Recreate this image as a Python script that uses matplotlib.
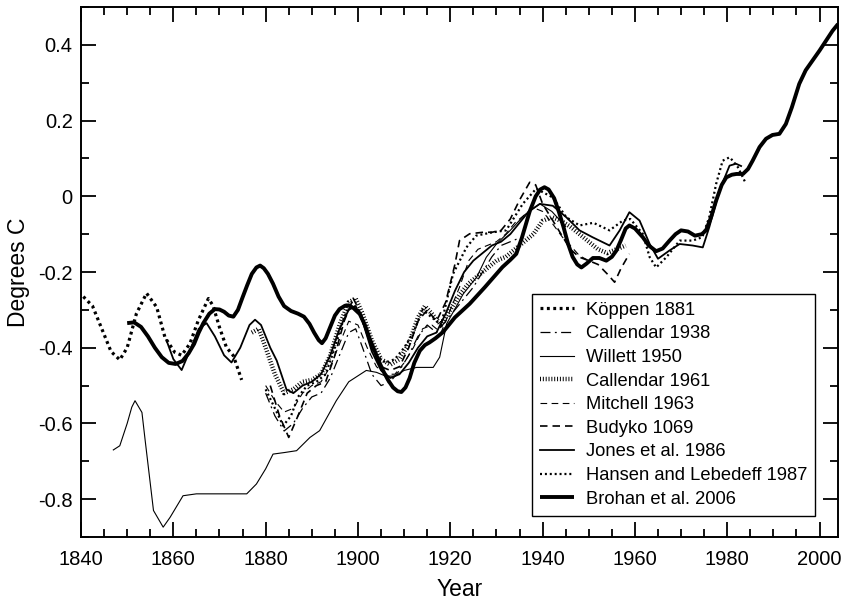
import matplotlib
matplotlib.use("Agg")
import matplotlib.pyplot as plt
from matplotlib.ticker import MultipleLocator

plt.rcParams['font.family'] = ['Liberation Sans', 'DejaVu Sans']

# --- reconstructions of global temperature (degrees C) ---
koppen_years = [1840.5, 1842.5, 1844.5, 1846.5, 1848.4, 1850, 1852, 1854.2, 1856.4, 1858.2,
                1860.3, 1861.8, 1863.6, 1865.4, 1867.6, 1868.6, 1870, 1871.5, 1873, 1874.8]
koppen_vals = [-0.265, -0.29, -0.35, -0.41, -0.432, -0.40, -0.31, -0.256, -0.293, -0.373,
               -0.412, -0.42, -0.389, -0.328, -0.27, -0.289, -0.346, -0.399, -0.421, -0.485]

callendar38_years = [1880, 1882, 1884, 1886, 1888, 1890, 1892, 1894, 1896, 1898, 1899.5,
                     1901, 1903, 1905, 1907, 1909, 1911, 1913, 1915, 1917, 1919, 1921,
                     1923, 1925, 1927, 1929, 1931, 1933, 1935]
callendar38_vals = [-0.52, -0.58, -0.62, -0.60, -0.56, -0.53, -0.52, -0.48, -0.42, -0.36, -0.35,
                    -0.40, -0.47, -0.50, -0.49, -0.46, -0.42, -0.37, -0.34, -0.36, -0.33, -0.30,
                    -0.27, -0.24, -0.20, -0.16, -0.13, -0.12, -0.11]

willett_years = [1847, 1848.4, 1850, 1851, 1851.7, 1853.2, 1853.9, 1855.7, 1857.8, 1859.3,
                 1862.1, 1865, 1870, 1875.9, 1878, 1880, 1881.6, 1884, 1886.7, 1889.6,
                 1891.7, 1895.3, 1898, 1901.8, 1904, 1906, 1908, 1910, 1912.7, 1916.3,
                 1917.7, 1919.2, 1922.8, 1925.7, 1927.8, 1930, 1933, 1936, 1939.4, 1942, 1945]
willett_vals = [-0.67, -0.659, -0.60, -0.557, -0.54, -0.571, -0.645, -0.83, -0.874, -0.848,
                -0.791, -0.786, -0.786, -0.786, -0.76, -0.72, -0.681, -0.677, -0.672, -0.637,
                -0.619, -0.54, -0.49, -0.46, -0.465, -0.475, -0.475, -0.46, -0.452, -0.452,
                -0.425, -0.337, -0.258, -0.214, -0.161, -0.126, -0.09, -0.05, -0.02, -0.04, -0.08]

callendar61_years = [1877, 1878.5, 1880, 1882, 1884, 1886, 1888, 1890, 1892, 1894, 1896, 1898,
                     1899.5, 1901, 1903, 1905, 1907, 1909, 1911, 1913, 1914.5, 1916, 1918,
                     1920, 1922, 1924, 1926, 1928, 1930, 1932, 1934, 1936, 1938, 1940, 1942,
                     1944, 1946, 1948, 1950, 1952, 1954, 1956, 1958]
callendar61_vals = [-0.36, -0.35, -0.40, -0.47, -0.52, -0.51, -0.49, -0.485, -0.47, -0.42, -0.34,
                    -0.28, -0.27, -0.31, -0.38, -0.43, -0.445, -0.43, -0.39, -0.32, -0.29, -0.31,
                    -0.34, -0.30, -0.26, -0.23, -0.21, -0.19, -0.17, -0.16, -0.14, -0.12, -0.10,
                    -0.065, -0.055, -0.065, -0.08, -0.10, -0.12, -0.14, -0.15, -0.14, -0.13]

mitchell_years = [1880, 1882, 1884, 1886, 1888, 1890, 1892, 1894, 1896, 1898, 1900, 1902,
                  1904, 1906, 1908, 1910, 1912, 1914, 1916, 1918, 1920, 1922, 1924, 1926,
                  1928, 1930, 1932, 1934, 1936, 1938, 1940, 1942, 1944.3, 1946, 1948, 1950]
mitchell_vals = [-0.50, -0.54, -0.57, -0.56, -0.52, -0.50, -0.49, -0.45, -0.39, -0.33, -0.34,
                 -0.40, -0.45, -0.47, -0.47, -0.44, -0.40, -0.35, -0.34, -0.36, -0.30, -0.24,
                 -0.17, -0.14, -0.13, -0.12, -0.10, -0.07, -0.05, -0.03, -0.04, -0.07, -0.108,
                 -0.13, -0.157, -0.17]

budyko_years = [1881, 1883, 1885, 1887, 1889, 1891, 1893, 1895, 1897, 1899, 1901, 1903, 1905,
                1907, 1909, 1911, 1913, 1915, 1917, 1919, 1921, 1922, 1924.2, 1927.1, 1929,
                1931, 1933, 1935, 1937.2, 1938.5, 1940, 1942, 1944, 1946, 1948, 1950, 1952,
                1954, 1955.6, 1957, 1958.8]
budyko_vals = [-0.50, -0.58, -0.637, -0.58, -0.52, -0.50, -0.49, -0.42, -0.33, -0.27, -0.32,
               -0.40, -0.45, -0.46, -0.45, -0.40, -0.33, -0.30, -0.33, -0.28, -0.18, -0.117,
               -0.099, -0.095, -0.095, -0.09, -0.06, -0.01, 0.037, 0.03, -0.02, -0.06, -0.10,
               -0.14, -0.161, -0.17, -0.18, -0.205, -0.227, -0.19, -0.152]

jones_years = [1858.5, 1860, 1861.8, 1863.5, 1865.5, 1867.2, 1869, 1871, 1872.6, 1874.5,
               1876.5, 1877.7, 1879, 1881, 1882.4, 1884.5, 1886, 1888, 1890, 1892, 1894,
               1896, 1898, 1899.5, 1901, 1903, 1905, 1907, 1909, 1911, 1913, 1915, 1917,
               1919, 1921, 1923, 1925, 1927, 1929, 1931, 1933, 1935, 1937, 1939.4, 1942.2,
               1945.1, 1948, 1950.8, 1954.5, 1956.7, 1958.8, 1961, 1963.2, 1965, 1967.5,
               1969.7, 1972.5, 1974.7, 1976.1, 1978.3, 1980.5, 1981.9, 1983]
jones_vals = [-0.38, -0.43, -0.459, -0.41, -0.35, -0.335, -0.37, -0.42, -0.439, -0.40,
              -0.34, -0.326, -0.34, -0.40, -0.434, -0.51, -0.52, -0.50, -0.49, -0.47, -0.42,
              -0.35, -0.30, -0.29, -0.33, -0.41, -0.46, -0.48, -0.47, -0.44, -0.40, -0.37, -0.36,
              -0.31, -0.25, -0.20, -0.17, -0.15, -0.13, -0.12, -0.10, -0.07, -0.04, -0.02, -0.025,
              -0.055, -0.09, -0.108, -0.13, -0.09, -0.042, -0.064, -0.126, -0.165, -0.143,
              -0.126, -0.13, -0.135, -0.082, 0.015, 0.081, 0.086, 0.08]

hansen_years = [1880, 1882, 1883.8, 1885.5, 1887, 1889, 1891, 1893, 1895, 1897, 1898.5, 1900,
                1902, 1904, 1906, 1908, 1910, 1912, 1914, 1916, 1918, 1920.6, 1923.5, 1925.6,
                1929.2, 1932.1, 1935.7, 1938.6, 1942.2, 1945.1, 1948, 1951, 1954.5, 1957.4,
                1959, 1961.7, 1963.2, 1964.6, 1966.8, 1969.7, 1972.5, 1974.6, 1976.1, 1977.6,
                1979, 1980.5, 1981.2, 1982.3, 1983.9]
hansen_vals = [-0.51, -0.56, -0.606, -0.58, -0.53, -0.50, -0.49, -0.47, -0.40, -0.32, -0.28,
               -0.30, -0.36, -0.42, -0.44, -0.43, -0.40, -0.36, -0.30, -0.32, -0.34, -0.205,
               -0.135, -0.104, -0.095, -0.09, -0.02, 0.02, -0.003, -0.055, -0.077, -0.07, -0.09,
               -0.064, -0.06, -0.099, -0.161, -0.188, -0.161, -0.117, -0.117, -0.108, -0.055,
               0.033, 0.094, 0.103, 0.094, 0.077, 0.037]

brohan_years = [1850, 1851.5, 1853, 1854.5, 1856, 1857.5, 1859, 1860.5, 1862, 1863.3, 1864.5,
                1865.5, 1866.5, 1867.8, 1869, 1870, 1871, 1872, 1873, 1874, 1875, 1876, 1877,
                1878, 1878.8, 1879.6, 1880.5, 1881.6, 1882.8, 1884, 1885.5, 1887, 1888.3,
                1889.5, 1890.5, 1891.5, 1892.2, 1893, 1894, 1895, 1896, 1897.2, 1898, 1899,
                1900.4, 1901.5, 1902.5, 1903.5, 1904.5, 1905.5, 1906.5, 1907.6, 1908.6, 1909.4,
                1910.3, 1911.2, 1912.2, 1913.4, 1914.5, 1915.5, 1916.8, 1918.4, 1921, 1924.2,
                1927.5, 1931.3, 1933, 1934.3, 1935.5, 1937.2, 1938.5, 1939.5, 1940.4, 1941.3,
                1942.5, 1943.5, 1944.5, 1945.5, 1946.5, 1947.5, 1948.4, 1949.5, 1950.9, 1952.3,
                1953.8, 1955, 1956, 1957, 1958, 1958.8, 1960, 1961.7, 1963, 1964.6, 1966,
                1967.5, 1968.8, 1970, 1971.5, 1973, 1974.5, 1975.4, 1976.5, 1977.6, 1978.8,
                1979.8, 1981, 1982, 1983.4, 1984.5, 1985.5, 1987, 1988.4, 1989.8, 1991.3,
                1992.7, 1994, 1995.6, 1997, 1998.5, 2000, 2001.4, 2002.8, 2004]
brohan_vals = [-0.335, -0.333, -0.345, -0.37, -0.40, -0.425, -0.44, -0.443, -0.435, -0.415, -0.39,
               -0.36, -0.335, -0.31, -0.298, -0.299, -0.305, -0.315, -0.318, -0.30, -0.267, -0.235,
               -0.205, -0.188, -0.183, -0.19, -0.205, -0.231, -0.265, -0.29, -0.303, -0.31, -0.318,
               -0.337, -0.36, -0.38, -0.388, -0.375, -0.345, -0.315, -0.298, -0.289, -0.288, -0.295,
               -0.311, -0.34, -0.375, -0.405, -0.435, -0.462, -0.485, -0.505, -0.515, -0.517,
               -0.505, -0.48, -0.44, -0.408, -0.393, -0.386, -0.375, -0.359, -0.32, -0.284,
               -0.24, -0.187, -0.168, -0.152, -0.11, -0.04, 0.0, 0.018, 0.024, 0.018,
               -0.005, -0.04, -0.08, -0.125, -0.16, -0.18, -0.188, -0.178, -0.163, -0.163,
               -0.17, -0.16, -0.143, -0.115, -0.085, -0.077, -0.085, -0.108, -0.13, -0.145, -0.138,
               -0.117, -0.10, -0.09, -0.093, -0.104, -0.10, -0.09, -0.055, -0.011, 0.03,
               0.05, 0.057, 0.059, 0.059, 0.072, 0.094, 0.13, 0.152, 0.162, 0.165,
               0.191, 0.235, 0.297, 0.333, 0.359, 0.385, 0.411, 0.437, 0.455]

fig = plt.figure(figsize=(8.43, 6.0), dpi=100)
ax = fig.add_axes([0.0961, 0.105, 0.898, 0.8833])

ink = 'black'
common = dict(color=ink, solid_joinstyle='round', dash_joinstyle='round')
ax.plot(koppen_years, koppen_vals, lw=2.3, linestyle=(0, (0.9, 1.1)),
        dash_capstyle='butt', label='Köppen 1881', **common)
ax.plot(callendar38_years, callendar38_vals, lw=0.9,
        linestyle=(0, (8, 3.5, 1.5, 3.5)), label='Callendar 1938', **common)
ax.plot(willett_years, willett_vals, lw=0.8, label='Willett 1950', **common)
ax.plot(callendar61_years, callendar61_vals, lw=3.2, linestyle=(0, (0.22, 0.42)),
        dash_capstyle='butt', label='Callendar 1961', **common)
ax.plot(mitchell_years, mitchell_vals, lw=0.8, linestyle=(0, (6, 4)),
        label='Mitchell 1963', **common)
ax.plot(budyko_years, budyko_vals, lw=1.2, linestyle=(0, (4.5, 3)),
        label='Budyko 1069', **common)
ax.plot(jones_years, jones_vals, lw=1.3, label='Jones et al. 1986', **common)
ax.plot(hansen_years, hansen_vals, lw=1.6, linestyle=(0, (0.9, 1.3)),
        dash_capstyle='butt', label='Hansen and Lebedeff 1987', **common)
ax.plot(brohan_years, brohan_vals, lw=2.8, solid_capstyle='butt',
        label='Brohan et al. 2006', **common)

ax.set_xlim(1840, 2004)
ax.set_ylim(-0.9, 0.5)
ax.xaxis.set_major_locator(MultipleLocator(20))
ax.xaxis.set_minor_locator(MultipleLocator(5))
ax.yaxis.set_major_locator(MultipleLocator(0.2))
ax.yaxis.set_minor_locator(MultipleLocator(0.1))
ax.yaxis.set_major_formatter(plt.FuncFormatter(lambda v, p: '0' if abs(v) < 1e-9 else f'{v:.1f}'))

for s in ax.spines.values():
    s.set_linewidth(1.4)
ax.tick_params(which='both', direction='in', top=True, right=True, width=1.3, labelsize=14.5)
ax.tick_params(which='major', length=11)
ax.tick_params(which='minor', length=5.5)
ax.tick_params(axis='x', which='major', pad=9.5)
ax.tick_params(axis='y', which='major', pad=6)

ax.set_xlabel('Year', fontsize=16.5, labelpad=6)
ax.set_ylabel('Degrees C', fontsize=16.5, labelpad=6)

leg = ax.legend(loc='lower right', bbox_to_anchor=(0.97, 0.04), borderaxespad=0,
                fontsize=13.2, frameon=True, fancybox=False, framealpha=1,
                edgecolor='black', handlelength=1.85, handletextpad=0.65,
                labelspacing=0.36, borderpad=0.45)
leg.get_frame().set_linewidth(1.0)

fig.savefig('out.png', dpi=100)
